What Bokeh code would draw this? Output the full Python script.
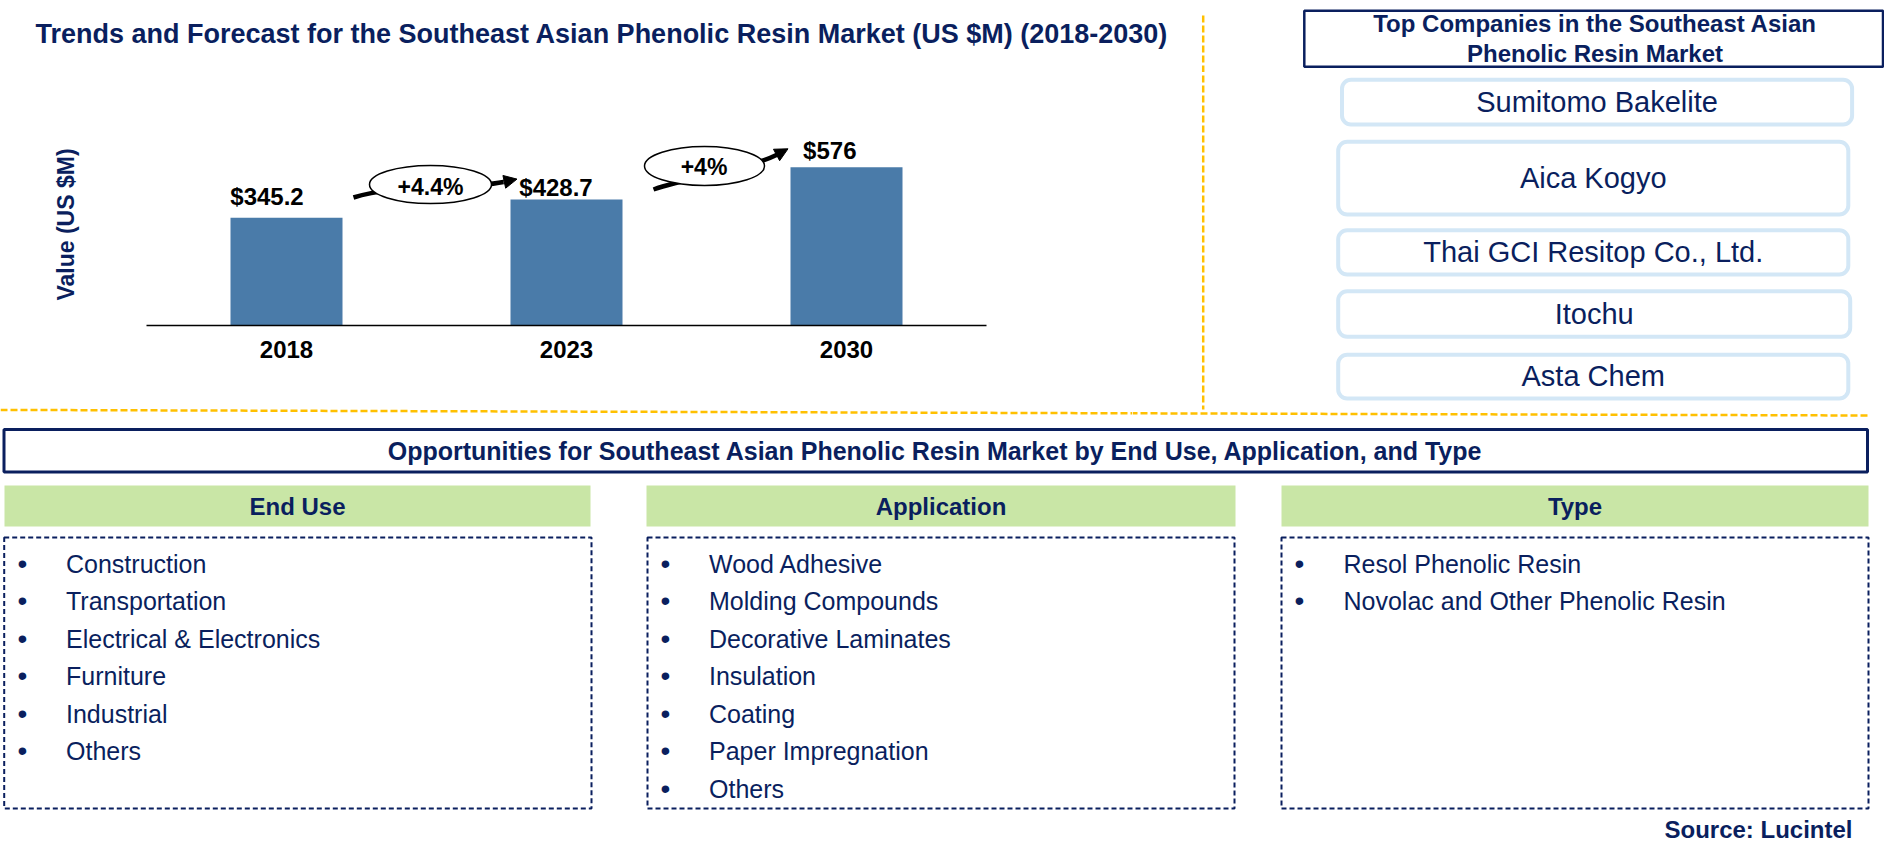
import math
from bokeh.plotting import figure
from bokeh.models import FactorRange, Range1d, ColumnDataSource, Arrow, NormalHead
from bokeh.layouts import row, column
from bokeh.core.properties import value
from bokeh.embed import file_html
from bokeh.resources import INLINE

# ------------------------------------------------------------------ data
years = ["2018", "2023", "2030"]
market_values = [345.2, 428.7, 576.0]
value_labels = ["$345.2", "$428.7", "$576"]
cagr_labels = ["+4.4%", "+4%"]
chart_title = "Trends and Forecast for the Southeast Asian Phenolic Resin Market (US $M) (2018-2030)"
y_axis_title = "Value (US $M)"
companies_title = ["Top Companies in the Southeast Asian", "Phenolic Resin Market"]
companies = ["Sumitomo Bakelite", "Aica Kogyo", "Thai GCI Resitop Co., Ltd.", "Itochu", "Asta Chem"]
opp_title = "Opportunities for Southeast Asian Phenolic Resin Market by End Use, Application, and Type"
segment_titles = ["End Use", "Application", "Type"]
end_use = ["Construction", "Transportation", "Electrical & Electronics", "Furniture", "Industrial", "Others"]
application = ["Wood Adhesive", "Molding Compounds", "Decorative Laminates", "Insulation",
               "Coating", "Paper Impregnation", "Others"]
types = ["Resol Phenolic Resin", "Novolac and Other Phenolic Resin"]
source_text = "Source: Lucintel"

# ------------------------------------------------------------------ style / layout
FONT = "Liberation Sans"
NAVY = "#0A1F5E"
BAR = "#4A7BA9"
GREEN = "#C9E6A6"
LIGHT = "#D3E7F6"
GOLD = "#FFC000"

W_TOT = 1884
H_T, H_MID, H_BOT = 72, 346, 436
W_A = 1132
W_B = W_TOT - W_A
Y_MID0 = H_T                 # page y where the chart row starts
Y_BOT0 = H_T + H_MID         # page y where the bottom panel starts

BASE = -148.6      # value at the chart baseline
PPU = 0.2183       # pixels per value unit
BASE_SY = 325      # page y of the chart baseline
FACTOR_PX = 280.0
PAD = (W_A / FACTOR_PX - len(years)) / 2
LABEL_DX = [-19.5, -10.5, -16.7]
LABEL_DY = [-21.0, -12.0, -17.0]
K = (415.0 - 409.4) / 1868.0   # slope of the gold separator


def fig(w, h, xr, yr, **kw):
    p = figure(width=w, height=h, x_range=xr, y_range=yr, toolbar_location=None,
               output_backend="svg", min_border=0, outline_line_color=None, **kw)
    p.grid.visible = False
    p.background_fill_color = "white"
    p.border_fill_color = "white"
    return p


def txt(p, x, y, t, size, bold=False, color=NAVY, align="left", angle=0.0, **kw):
    p.text(x=x, y=y, text=t, text_font=value(FONT), text_font_size=value(size),
           text_font_style="bold" if bold else "normal", text_color=color,
           text_align=align, text_baseline="middle", angle=angle, **kw)


def ax_x(sx):   # page pixel -> synthetic categorical coordinate
    return sx / FACTOR_PX - PAD


def ax_y(sy):   # page pixel -> value coordinate
    return BASE + (BASE_SY - sy) / PPU


# ------------------------------------------------------------------ title strip
pT = fig(W_TOT, H_T, Range1d(0, W_TOT), Range1d(H_T, 0),
         x_axis_location=None, y_axis_location=None)
txt(pT, [35], [33], [chart_title], "27px", bold=True)
pT.line(x=[1202.7, 1202.7], y=[15, H_T], line_color=GOLD, line_width=2.5, line_dash="7 3")
pT.quad(left=[1303.8], right=[1882.5], top=[10.2], bottom=[66.3], fill_color=None,
        line_color=NAVY, line_width=2.5)
txt(pT, [1594.5, 1594.5], [23.3, 52.6], companies_title, "24px", bold=True, align="center")

# ------------------------------------------------------------------ chart
pA = fig(W_A, H_MID,
         FactorRange(*years, range_padding=PAD, range_padding_units="absolute"),
         Range1d(ax_y(Y_BOT0), ax_y(Y_MID0)), y_axis_location=None)

ax = pA.xaxis[0]
ax.fixed_location = BASE
ax.bounds = (0, 3)
ax.axis_line_color = "black"
ax.axis_line_width = 1.5
ax.major_tick_line_color = None
ax.minor_tick_line_color = None
ax.major_label_text_font = FONT
ax.major_label_text_font_style = "bold"
ax.major_label_text_font_size = "24px"
ax.major_label_text_color = "black"
ax.major_label_standoff = 9

src = ColumnDataSource(dict(year=years, val=market_values, label=value_labels,
                            dx=LABEL_DX, dy=LABEL_DY))
pA.vbar(x="year", top="val", bottom=BASE, width=0.4, source=src,
        fill_color=BAR, line_color=None)
pA.text(x="year", y="val", text="label", x_offset="dx", y_offset="dy", source=src,
        text_font=value(FONT), text_font_size=value("24px"), text_font_style="bold",
        text_color="black", text_align="center", text_baseline="middle")

pA.bezier(x0=[ax_x(353), ax_x(653)], y0=[ax_y(197), ax_y(189)],
          x1=[ax_x(503), ax_x(777)], y1=[ax_y(181.5), ax_y(154)],
          cx0=[ax_x(393), ax_x(690)], cy0=[ax_y(184), ax_y(176)],
          cx1=[ax_x(463), ax_x(745)], cy1=[ax_y(189.5), ax_y(170)],
          line_color="black", line_width=4.5)
for (xs, ys, xe, ye) in [(503, 181.5, 516.5, 178.6), (776, 154.5, 787.5, 148.3)]:
    pA.add_layout(Arrow(x_start=ax_x(xs), y_start=ax_y(ys), x_end=ax_x(xe), y_end=ax_y(ye),
                        line_width=4.5, line_color="black",
                        end=NormalHead(size=13, fill_color="black", line_color="black")))
pA.ellipse(x=[ax_x(430), ax_x(704)], y=[ax_y(184), ax_y(165.5)],
           width=[122 / FACTOR_PX, 120 / FACTOR_PX], height=[38 / PPU, 39 / PPU],
           fill_color="white", line_color="black", line_width=1.5)
txt(pA, [ax_x(430), ax_x(703.5)], [ax_y(186), ax_y(166)], cagr_labels, "23px",
    bold=True, color="black", align="center")

txt(pA, [ax_x(65.4)], [ax_y(224)], [y_axis_title], "23px", bold=True, align="center",
    angle=math.pi / 2)
pA.line(x=[ax_x(0), ax_x(W_A)], y=[ax_y(409.4), ax_y(409.4 + W_A * K)],
        line_color=GOLD, line_width=2.5, line_dash="7 3")

# ------------------------------------------------------------------ companies
pB = fig(W_B, H_MID, Range1d(W_A, W_TOT), Range1d(Y_BOT0, Y_MID0),
         x_axis_location=None, y_axis_location=None)
pB.line(x=[1202.7, 1202.7], y=[Y_MID0, 409], line_color=GOLD, line_width=2.5,
        line_dash="7 3", line_dash_offset=(Y_MID0 - 15) % 10)
pB.line(x=[W_A, 1868], y=[409.4 + W_A * K, 415.0], line_color=GOLD,
        line_width=2.5, line_dash="7 3", line_dash_offset=W_A % 10)

box_l = [1341.5, 1337.7, 1337.7, 1337.7, 1337.7]
box_r = [1851.6, 1847.8, 1847.8, 1849.7, 1847.8]
box_t = [79.3, 141.3, 229.7, 290.7, 354.3]
box_b = [124.0, 214.0, 274.0, 336.3, 398.0]
pB.quad(left=box_l, right=box_r, top=box_t, bottom=box_b, fill_color="white",
        line_color=LIGHT, line_width=4, border_radius=9)
cx = [(l + r) / 2 for l, r in zip(box_l, box_r)]
cy = [(t + b) / 2 - 0.5 for t, b in zip(box_t, box_b)]
txt(pB, cx, cy, companies, "29px", align="center")

# ------------------------------------------------------------------ opportunities
pC = fig(W_TOT, H_BOT, Range1d(0, W_TOT), Range1d(Y_BOT0 + H_BOT, Y_BOT0),
         x_axis_location=None, y_axis_location=None)
pC.quad(left=[3.5], right=[1867], top=[429], bottom=[471.5], fill_color=None,
        line_color=NAVY, line_width=3)
txt(pC, [935], [450.5], [opp_title], "25px", bold=True, align="center")

col_l = [4, 646, 1281]
col_r = [590, 1235, 1868]
pC.quad(left=col_l, right=col_r, top=[485] * 3, bottom=[526] * 3, fill_color=GREEN,
        line_color=None)
txt(pC, [297, 940.5, 1574.5], [505.5] * 3, segment_titles, "24px", bold=True, align="center")

dash_l = [3.7, 647, 1281]
dash_r = [591, 1234, 1868]
pC.quad(left=dash_l, right=dash_r, top=[537] * 3, bottom=[808] * 3, fill_color=None,
        line_color=NAVY, line_width=2, line_dash="5 3")

bullet_x = [22, 665, 1299]
text_x = [65.5, 708.5, 1343]
for items, bx, tx in zip([end_use, application, types], bullet_x, text_x):
    ys = [563.2 + i * 37.55 for i in range(len(items))]
    txt(pC, [bx] * len(items), [y - 0.5 for y in ys], ["\u2022"] * len(items), "28px",
        align="center")
    txt(pC, [tx] * len(items), ys, items, "25px")

txt(pC, [1852], [828.5], [source_text], "24px", bold=True, align="right")

layout = column(pT, row(pA, pB, spacing=0), pC, spacing=0)
open("out.html", "w").write(file_html(layout, INLINE))
